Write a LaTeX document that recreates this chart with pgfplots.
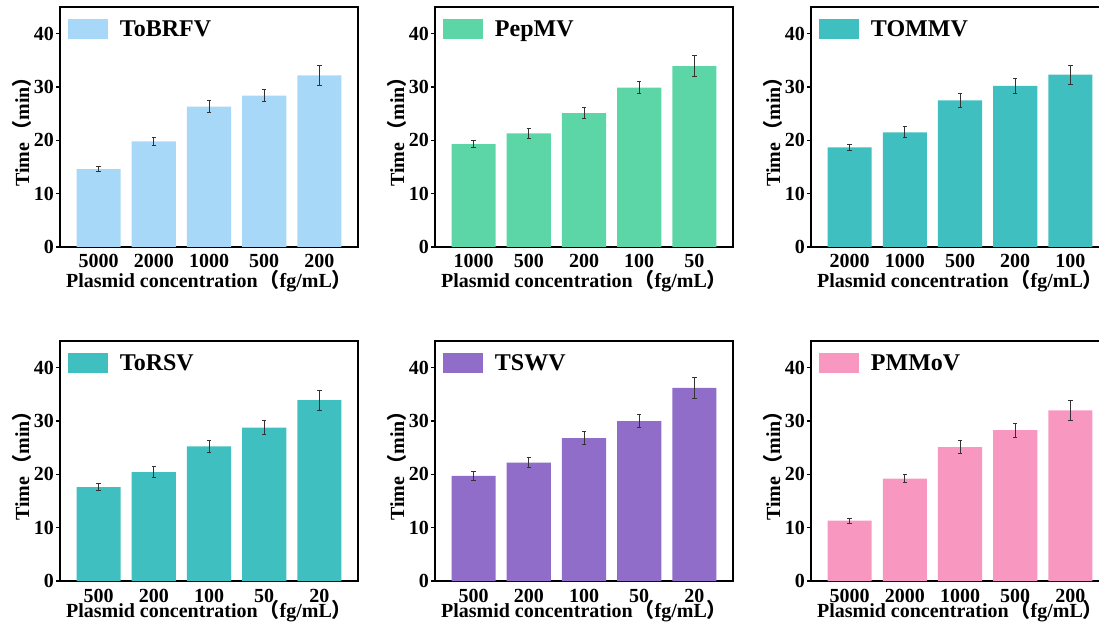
\documentclass[border=0pt]{standalone}
\usepackage{pgfplots}
\pgfplotsset{compat=1.18}
\usepackage{pgfplotstable}
\usepackage{fontspec}
\setmainfont{Liberation Serif}
\newfontfamily\cjk{Noto Sans CJK SC}
\definecolor{cBlue}{RGB}{168,216,248}
\definecolor{cGreen}{RGB}{92,214,166}
\definecolor{cTeal}{RGB}{64,191,192}
\definecolor{cPurple}{RGB}{143,109,200}
\definecolor{cPink}{RGB}{248,152,192}

\pgfplotstableread{
x y e
0 14.6 0.5
1 19.8 0.8
2 26.3 1.1
3 28.4 1.05
4 32.2 1.9
}\dToBRFV
\pgfplotstableread{
x y e
0 19.3 0.7
1 21.3 1.0
2 25.1 1.1
3 29.9 1.2
4 33.9 2.0
}\dPepMV
\pgfplotstableread{
x y e
0 18.7 0.6
1 21.5 1.0
2 27.5 1.3
3 30.2 1.4
4 32.3 1.8
}\dTOMMV
\pgfplotstableread{
x y e
0 17.6 0.7
1 20.4 1.0
2 25.25 1.1
3 28.75 1.3
4 33.9 1.9
}\dToRSV
\pgfplotstableread{
x y e
0 19.7 0.8
1 22.2 1.0
2 26.8 1.2
3 30.0 1.25
4 36.2 2.05
}\dTSWV
\pgfplotstableread{
x y e
0 11.3 0.5
1 19.2 0.7
2 25.1 1.2
3 28.3 1.3
4 32.0 1.9
}\dPMMoV

\newcommand\lp{\hspace{2pt}{\cjk （}}
\newcommand\rp{{\cjk ）}}

\pgfplotsset{
  panel/.style={
    scale only axis, width=298pt, height=240pt, anchor=south west,
    xmin=-0.7, xmax=4.7, ymin=0, ymax=45,
    ytick={0,10,20,30,40}, xtick={0,1,2,3,4},
    axis line style={line width=1.8pt},
    ytick pos=left, xtick pos=bottom,
    tick align=outside, major tick length=4pt,
    ytick style={line width=1.1pt, black},
    xtick style={draw=none},
    /pgf/number format/assume math mode=true,
    ticklabel style={font=\fontsize{20}{20}\selectfont\bfseries},
    yticklabel style={inner sep=0pt, xshift=-2pt},
    xticklabel style={anchor=base, inner sep=0pt, yshift=-17pt},
    ylabel={Time\lp min\rp},
    xlabel={Plasmid concentration\lp fg/mL\rp},
    label style={font=\fontsize{20}{20}\selectfont\bfseries},
    ylabel style={at={(axis description cs:-0.104,0.5)}, anchor=base},
    xlabel style={at={(axis description cs:0.5,-0.1667)}, anchor=base},
    legend style={at={(axis description cs:0.0268,0.95)}, anchor=north west,
      draw=none, fill=none, inner sep=0pt, outer sep=0pt,
      font=\fontsize{24}{24}\selectfont\bfseries,
      nodes={inner sep=0pt},
      /tikz/every odd column/.append style={column sep=12pt},
      /tikz/every even column/.append style={nodes={yshift=7pt}}},
    legend cell align=left,
    legend image code/.code={\fill[fill=#1] (0pt,-2.5pt) rectangle (40pt,17.5pt);},
  },
  bars/.style={ybar, bar width=0.8, fill=#1, draw=none,
    error bars/.cd, y dir=both, y explicit,
    error bar style={line width=1pt, black!80},
    error mark options={rotate=90, mark size=2.2pt, line width=1pt, black!80}},
  bottomrow/.style={xlabel style={at={(axis description cs:0.5,-0.153)}}},
}

\begin{document}
\begin{tikzpicture}
\useasboundingbox (0,0) rectangle (1099pt,627pt);
\clip (0,0) rectangle (1099pt,627pt);

\begin{axis}[panel=cBlue, at={(60pt,380pt)}, xticklabels={5000,2000,1000,500,200}]
\addplot[bars=cBlue] table[x=x,y=y,y error=e]{\dToBRFV};
\addlegendentry{ToBRFV}
\end{axis}

\begin{axis}[panel=cGreen, at={(435pt,380pt)}, xticklabels={1000,500,200,100,50}]
\addplot[bars=cGreen] table[x=x,y=y,y error=e]{\dPepMV};
\addlegendentry{PepMV}
\end{axis}

\begin{axis}[panel=cTeal, at={(811pt,380pt)}, xticklabels={2000,1000,500,200,100}]
\addplot[bars=cTeal] table[x=x,y=y,y error=e]{\dTOMMV};
\addlegendentry{TOMMV}
\end{axis}

\begin{axis}[panel=cTeal, bottomrow, at={(60pt,46pt)}, xticklabels={500,200,100,50,20}]
\addplot[bars=cTeal] table[x=x,y=y,y error=e]{\dToRSV};
\addlegendentry{ToRSV}
\end{axis}

\begin{axis}[panel=cPurple, bottomrow, at={(435pt,46pt)}, xticklabels={500,200,100,50,20}]
\addplot[bars=cPurple] table[x=x,y=y,y error=e]{\dTSWV};
\addlegendentry{TSWV}
\end{axis}

\begin{axis}[panel=cPink, bottomrow, at={(811pt,46pt)}, xticklabels={5000,2000,1000,500,200}]
\addplot[bars=cPink] table[x=x,y=y,y error=e]{\dPMMoV};
\addlegendentry{PMMoV}
\end{axis}
\end{tikzpicture}
\end{document}
